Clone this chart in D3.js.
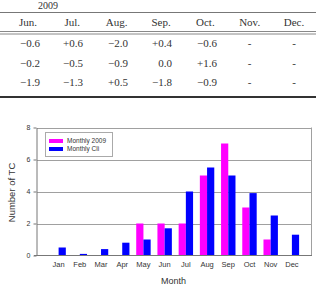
<!DOCTYPE html>
<html>
<head>
<meta charset="utf-8">
<script src="https://cdn.jsdelivr.net/npm/d3@7"></script>
<style>
  html, body { margin: 0; padding: 0; background: #fff; }
  svg { display: block; }
</style>
</head>
<body>
<div id="chart"></div>
<script>
// table part (cropped from a larger table)
const tableCols = ['Jun.', 'Jul.', 'Aug.', 'Sep.', 'Oct.', 'Nov.', 'Dec.'];
const tableRow1 = ['\u22120.6', '+0.6', '\u22122.0', '+0.4', '\u22120.6', '-', '-'];
const tableRow2 = ['\u22120.2', '\u22120.5', '\u22120.9', '0.0', '+1.6', '-', '-'];
const tableRow3 = ['\u22121.9', '\u22121.3', '+0.5', '\u22121.8', '\u22120.9', '-', '-'];

// bar chart
const months = ['Jan', 'Feb', 'Mar', 'Apr', 'May', 'Jun', 'Jul', 'Aug', 'Sep', 'Oct', 'Nov', 'Dec'];
const monthly2009 = [0, 0, 0, 0, 2, 2, 2, 5, 7, 3, 1, 0];
const monthlyCli = [0.5, 0.1, 0.4, 0.8, 1.0, 1.7, 4.0, 5.5, 5.0, 3.9, 2.5, 1.3];
const yTicks = [0, 2, 4, 6, 8];
const seriesNames = ['Monthly 2009', 'Monthly Cli'];
const seriesColors = ['#ff00ff', '#0000ff'];

const width = 317, height = 288;

const svg = d3.select('#chart')
    .append('svg')
    .attr('width', width)
    .attr('height', height);

// ---------- table ----------
const serif = '"Liberation Serif", "DejaVu Serif", serif';
const colX = d3.scalePoint().domain(tableCols).range([28, 294]);
const rightEdge = [40, 83, 128, 172, 217];

svg.append('text')
    .attr('x', 38).attr('y', 9)
    .attr('font-family', serif).attr('font-size', '10px').attr('fill', '#333')
    .text('2009');

svg.append('line').attr('x1', 0).attr('x2', 316).attr('y1', 12.5).attr('y2', 12.5)
    .attr('stroke', '#777').attr('stroke-width', 1);
svg.append('line').attr('x1', 0).attr('x2', 316).attr('y1', 31.5).attr('y2', 31.5)
    .attr('stroke', '#888').attr('stroke-width', 1);
svg.append('line').attr('x1', 0).attr('x2', 316).attr('y1', 34).attr('y2', 34)
    .attr('stroke', '#888').attr('stroke-width', 1);
svg.append('line').attr('x1', 0).attr('x2', 316).attr('y1', 97).attr('y2', 97)
    .attr('stroke', '#333').attr('stroke-width', 2);

svg.selectAll('.th')
    .data(tableCols)
    .enter()
    .append('text')
    .attr('class', 'th')
    .attr('x', d => colX(d))
    .attr('y', 26)
    .attr('text-anchor', 'middle')
    .attr('font-family', serif).attr('font-size', '11px').attr('fill', '#333')
    .text(d => d);

[tableRow1, tableRow2, tableRow3].forEach((row, r) => {
    svg.selectAll('.td' + r)
        .data(row)
        .enter()
        .append('text')
        .attr('class', 'td' + r)
        .attr('x', (d, i) => i < 5 ? rightEdge[i] : colX(tableCols[i]))
        .attr('y', 47 + r * 19.5)
        .attr('text-anchor', (d, i) => i < 5 ? 'end' : 'middle')
        .attr('font-family', serif).attr('font-size', '11px').attr('fill', '#333')
        .text(d => d);
});

// ---------- chart ----------
const sans = '"Liberation Sans", Arial, sans-serif';
const plot = {left: 37, right: 312, top: 127.5, bottom: 255.5};

const xAxis = d3.scaleBand()
    .domain(months)
    .range([48, 302.5])
    .paddingInner(0.32)
    .paddingOuter(0.16);

const xSeries = d3.scaleBand()
    .domain([0, 1])
    .range([0, xAxis.bandwidth()]);

const yAxis = d3.scaleLinear()
    .domain([0, 8])
    .range([plot.bottom, plot.top]);

// grid lines
svg.selectAll('.grid')
    .data(yTicks.filter(d => d > 0))
    .enter()
    .append('line')
    .attr('class', 'grid')
    .attr('x1', plot.left).attr('x2', plot.right)
    .attr('y1', d => Math.round(yAxis(d)) + 0.5)
    .attr('y2', d => Math.round(yAxis(d)) + 0.5)
    .attr('stroke', '#a0a0a0').attr('stroke-width', 1);

svg.append('line')
    .attr('x1', plot.right - 0.5).attr('x2', plot.right - 0.5)
    .attr('y1', plot.top).attr('y2', plot.bottom)
    .attr('stroke', '#a0a0a0').attr('stroke-width', 1);

// bars
const series = [monthly2009, monthlyCli];
series.forEach((vals, s) => {
    svg.selectAll('.bar' + s)
        .data(vals)
        .enter()
        .append('rect')
        .attr('class', 'bar' + s)
        .attr('x', (d, i) => xAxis(months[i]) + xSeries(s))
        .attr('y', d => yAxis(d))
        .attr('width', xSeries.bandwidth())
        .attr('height', d => yAxis(0) - yAxis(d))
        .attr('fill', seriesColors[s]);
});

// y axis
const yAxisG = svg.append('g')
    .attr('transform', 'translate(' + (plot.left - 0.5) + ',0)')
    .call(d3.axisLeft(yAxis).tickValues(yTicks).tickSize(3).tickPadding(3).tickSizeOuter(0));
yAxisG.select('.domain').attr('stroke', '#777');
yAxisG.selectAll('.tick line').attr('stroke', '#777');
yAxisG.selectAll('.tick text')
    .attr('font-family', sans).attr('font-size', '7px').attr('fill', '#333');

// x axis line
svg.append('line')
    .attr('x1', plot.left - 3).attr('x2', plot.right)
    .attr('y1', plot.bottom).attr('y2', plot.bottom)
    .attr('stroke', '#777').attr('stroke-width', 1);

const xAxisG = svg.append('g')
    .attr('transform', 'translate(0,' + plot.bottom + ')')
    .call(d3.axisBottom(xAxis).tickSize(0).tickPadding(6));
xAxisG.select('.domain').remove();
xAxisG.selectAll('.tick text')
    .attr('font-family', sans).attr('font-size', '7.5px').attr('fill', '#333');

// axis titles
svg.append('text')
    .attr('transform', 'translate(15,' + ((plot.top + plot.bottom) / 2 + 1) + ') rotate(-90)')
    .attr('text-anchor', 'middle')
    .attr('font-family', sans).attr('font-size', '9.5px').attr('fill', '#333')
    .text('Number of TC');

svg.append('text')
    .attr('x', (plot.left + plot.right) / 2 - 1)
    .attr('y', 284)
    .attr('text-anchor', 'middle')
    .attr('font-family', sans).attr('font-size', '9px').attr('fill', '#333')
    .text('Month');

// legend
const legend = svg.append('g').attr('transform', 'translate(45.5,132.5)');
legend.append('rect')
    .attr('width', 67).attr('height', 24)
    .attr('fill', '#fff').attr('stroke', '#aaa').attr('stroke-width', 1);
seriesNames.forEach((name, s) => {
    legend.append('rect')
        .attr('x', 3.5).attr('y', 6.5 + s * 8)
        .attr('width', 14).attr('height', 4)
        .attr('fill', seriesColors[s]);
    legend.append('text')
        .attr('x', 21.5).attr('y', 10.8 + s * 8)
        .attr('font-family', sans).attr('font-size', '6.5px').attr('fill', '#333')
        .text(name);
});
</script>
</body>
</html>
